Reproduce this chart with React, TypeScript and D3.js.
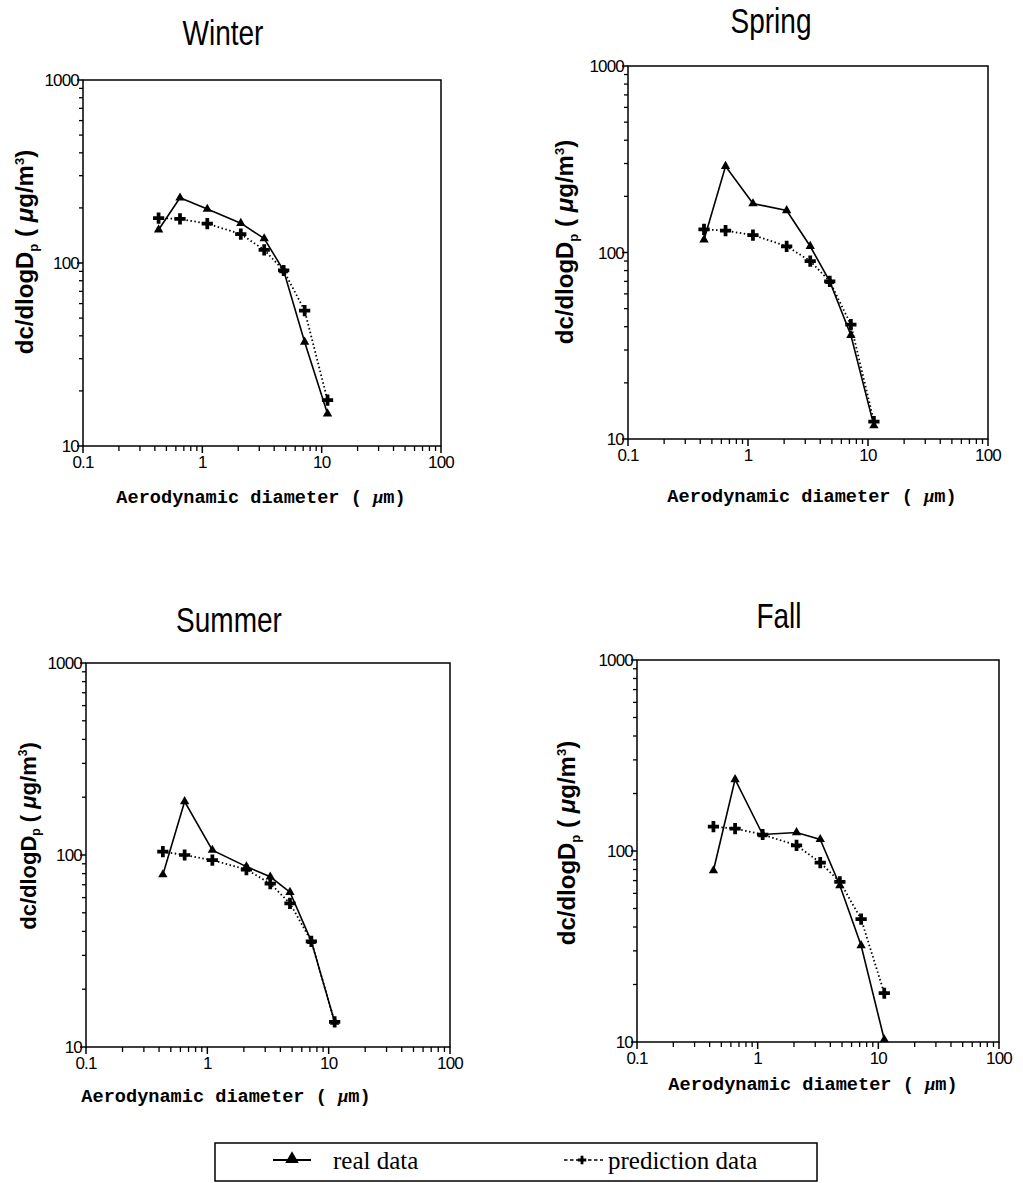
import React from "react";
import * as d3 from "d3";

const diameters = [0.43, 0.65, 1.1, 2.1, 3.3, 4.8, 7.2, 11.2];
const winterReal = [152, 227, 197, 165, 136, 91, 37, 15];
const winterPred = [176, 174, 164, 144, 118, 91, 55, 17.8];
const springReal = [117, 290, 183, 168, 108, 70, 36, 11.8];
const springPred = [133, 131, 124, 108, 90, 70, 41, 12.4];
const summerReal = [79, 190, 106, 87, 77, 64, 35.5, 13.5];
const summerPred = [104, 100, 94, 84, 71, 56, 35.5, 13.5];
const fallReal = [79, 237, 122, 125, 115, 66, 32, 10.3];
const fallPred = [134, 131, 122, 107, 87, 69, 44, 18];
const seasons = ["Winter", "Spring", "Summer", "Fall"];
const xTickLabels = ["0.1", "1", "10", "100"];
const yTickLabels = ["10", "100", "1000"];
const legendLabels = ["real data", "prediction data"];

const panels = [
  { title: seasons[0], real: winterReal, pred: winterPred, x0: 83, x1: 441, y0: 80, y1: 446, tx: 223, ty: 45, ylx: 25, yly: 252, yfs: 24, xlx: 261, xly: 503 },
  { title: seasons[1], real: springReal, pred: springPred, x0: 628, x1: 988, y0: 66, y1: 439, tx: 771, ty: 33, ylx: 565, yly: 242, yfs: 24, xlx: 812, xly: 502 },
  { title: seasons[2], real: summerReal, pred: summerPred, x0: 86, x1: 450, y0: 663, y1: 1047, tx: 229, ty: 632, ylx: 28, yly: 836, yfs: 22, xlx: 226, xly: 1102 },
  { title: seasons[3], real: fallReal, pred: fallPred, x0: 637, x1: 999, y0: 660, y1: 1042, tx: 779, ty: 628, ylx: 567, yly: 843, yfs: 24, xlx: 813, xly: 1090 },
];

const sans = "'Liberation Sans', Arial, sans-serif";
const mono = "'Liberation Mono', 'DejaVu Sans Mono', monospace";
const serif = "'Liberation Serif', 'DejaVu Serif', serif";

const triPath = d3.symbol(d3.symbolTriangle, 38)() as string;
const crossPath = d3.symbol(d3.symbolCross, 70)() as string;

function Panel({ p }: { p: any }) {
  const x = d3.scaleLog().domain([0.1, 100]).range([p.x0, p.x1]);
  const y = d3.scaleLog().domain([10, 1000]).range([p.y1, p.y0]);
  const xMinor: number[] = [];
  for (let d = 0.1; d < 99; d *= 10) for (let k = 2; k <= 9; k++) xMinor.push(d * k);
  const yMinor: number[] = [];
  for (let d = 10; d < 999; d *= 10) for (let k = 2; k <= 9; k++) yMinor.push(d * k);
  const xMajor = [0.1, 1, 10, 100];
  const yMajor = [10, 100, 1000];
  const realPts = diameters.map((d, i) => [x(d), y(p.real[i])] as [number, number]);
  const predPts = diameters.map((d, i) => [x(d), y(p.pred[i])] as [number, number]);
  const line = d3.line();
  return (
    <g>
      <text transform={`translate(${p.tx},${p.ty}) scale(0.8,1)`} textAnchor="middle" fontFamily={sans} fontSize={35}>{p.title}</text>
      <rect x={p.x0} y={p.y0} width={p.x1 - p.x0} height={p.y1 - p.y0} fill="none" stroke="#000" strokeWidth={1.5} />
      {xMinor.map((v, i) => (
        <line key={"xm" + i} x1={x(v)} x2={x(v)} y1={p.y1} y2={p.y1 + 5} stroke="#000" strokeWidth={1.3} />
      ))}
      {xMajor.map((v, i) => (
        <line key={"xM" + i} x1={x(v)} x2={x(v)} y1={p.y1} y2={p.y1 + 7} stroke="#000" strokeWidth={1.5} />
      ))}
      {yMinor.map((v, i) => (
        <line key={"ym" + i} x1={p.x0 - 4} x2={p.x0} y1={y(v)} y2={y(v)} stroke="#000" strokeWidth={1.3} />
      ))}
      {yMajor.map((v, i) => (
        <line key={"yM" + i} x1={p.x0 - 6} x2={p.x0} y1={y(v)} y2={y(v)} stroke="#000" strokeWidth={1.5} />
      ))}
      {xMajor.map((v, i) => (
        <text key={"xl" + i} x={x(v)} y={p.y1 + 22} textAnchor="middle" fontFamily={sans} fontSize={17} letterSpacing={-0.8}>{xTickLabels[i]}</text>
      ))}
      {yMajor.map((v, i) => (
        <text key={"yl" + i} x={p.x0 - 4} y={y(v) + 6} textAnchor="end" fontFamily={sans} fontSize={17} letterSpacing={-0.8}>{yTickLabels[i]}</text>
      ))}
      <path d={line(realPts) as string} fill="none" stroke="#000" strokeWidth={1.6} />
      <path d={line(predPts) as string} fill="none" stroke="#000" strokeWidth={1.8} strokeDasharray="1.5,2.5" />
      {realPts.map((pt, i) => (
        <path key={"r" + i} d={triPath} transform={`translate(${pt[0]},${pt[1]})`} fill="#000" />
      ))}
      {predPts.map((pt, i) => (
        <path key={"c" + i} d={crossPath} transform={`translate(${pt[0]},${pt[1]})`} fill="#000" />
      ))}
      <text transform={`translate(${p.ylx},${p.yly}) rotate(-90)`} dy="0.35em" textAnchor="middle" fontFamily={sans} fontWeight="bold" fontSize={p.yfs}>
        dc/dlogD<tspan fontSize={p.yfs * 0.55} dy={p.yfs * 0.2}>p</tspan><tspan dy={-p.yfs * 0.2}> ( </tspan><tspan fontStyle="italic">μ</tspan>g/m<tspan fontSize={p.yfs * 0.55} dy={-p.yfs * 0.4}>3</tspan><tspan dy={p.yfs * 0.4}>)</tspan>
      </text>
      <text x={p.xlx} y={p.xly} textAnchor="middle" fontFamily={mono} fontWeight="bold" fontSize={18.6}>
        Aerodynamic diameter ( <tspan fontFamily={serif} fontStyle="italic">μ</tspan>m)
      </text>
    </g>
  );
}

export default function App() {
  return (
    <div style={{ position: "absolute", left: 0, top: 0 }}>
      <svg width={1023} height={1183} style={{ display: "block", background: "#fff" }}>
        <rect x={0} y={0} width={1023} height={1183} fill="#fff" />
        {panels.map((p, i) => <Panel key={i} p={p} />)}
        <g>
          <rect x={215} y={1143} width={602} height={38} fill="none" stroke="#000" strokeWidth={1.5} />
          <line x1={273} x2={311} y1={1160} y2={1160} stroke="#000" strokeWidth={1.8} />
          <path d={d3.symbol(d3.symbolTriangle, 80)() as string} transform="translate(292,1159)" fill="#000" />
          <text x={333} y={1169} fontFamily={serif} fontSize={25}>{legendLabels[0]}</text>
          <line x1={564} x2={603} y1={1160} y2={1160} stroke="#000" strokeWidth={1.3} strokeDasharray="3.5,2.5" />
          <path d={d3.symbol(d3.symbolCross, 40)() as string} transform="translate(582,1160)" fill="#000" />
          <text x={608} y={1169} fontFamily={serif} fontSize={25}>{legendLabels[1]}</text>
        </g>
      </svg>
    </div>
  );
}
